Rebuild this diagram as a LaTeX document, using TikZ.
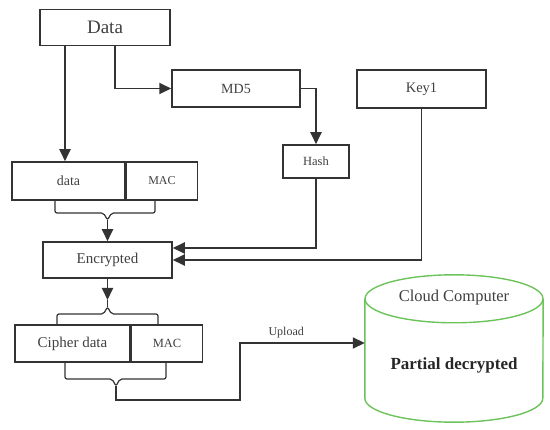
\documentclass[tikz,border=0pt]{standalone}
\usepackage{fontspec}
\setmainfont{Liberation Serif}
\usetikzlibrary{arrows.meta,positioning}
\usepackage{xcolor}
\definecolor{boxline}{HTML}{333333}
\definecolor{textgray}{HTML}{404040}
\definecolor{cloudgreen}{HTML}{6CC35A}

\begin{document}
\begin{tikzpicture}[
  x=1pt,y=-1pt,
  box/.style={draw=boxline,line width=1.5pt,fill=white,inner sep=0pt,text=textgray,align=center},
  arrow/.style={-{Triangle[length=12pt,width=11pt]},line width=1.8pt,draw=boxline},
  brace/.style={line width=1.2pt,draw=boxline,rounded corners=2pt},
  cloudline/.style={draw=cloudgreen,line width=1.4pt}
]
\useasboundingbox (0,0) rectangle (550,430);
% boxes
\node[box,minimum width=130pt,minimum height=36pt,font=\fontsize{19}{22}\selectfont] (data) at (105,27.5) {Data};
\node[box,minimum width=128pt,minimum height=37pt,font=\fontsize{14}{16}\selectfont] (md5) at (236,88.5) {MD5};
\node[box,minimum width=129pt,minimum height=38pt,font=\fontsize{14.5}{16}\selectfont] (key) at (421.5,89) {Key1};
\node[box,minimum width=66pt,minimum height=33pt,font=\fontsize{12.5}{14}\selectfont] (hash) at (316,161.5) {Hash};
\node[box,minimum width=113pt,minimum height=38pt,font=\fontsize{14}{16}\selectfont] (plain) at (68.5,181) {data};
\node[box,minimum width=71pt,minimum height=38pt,font=\fontsize{12}{14}\selectfont,right=0pt of plain] (mac) {MAC};
\node[box,minimum width=129pt,minimum height=36pt,font=\fontsize{15}{17}\selectfont] (enc) at (107.5,260) {Encrypted};
\node[box,minimum width=115pt,minimum height=37pt,font=\fontsize{15}{17}\selectfont] (cipher) at (72.5,343.5) {Cipher data};
\node[box,minimum width=71pt,minimum height=37pt,font=\fontsize{12.5}{14}\selectfont,right=0pt of cipher] (cmac) {MAC};
% cloud store
\node[minimum width=178pt,minimum height=147pt,inner sep=0pt] (cloud) at (454,348.5) {};
\draw[cloudline] ([yshift=-24pt]cloud.north) ellipse [x radius=89pt,y radius=24pt];
\draw[cloudline] ([yshift=-24pt]cloud.north west) -- ([yshift=24pt]cloud.south west)
  arc[start angle=180,end angle=360,x radius=89pt,y radius=24pt] -- ([yshift=-24pt]cloud.north east);
\node[text=textgray,font=\fontsize{16.5}{18}\selectfont] (cctitle) at ([yshift=-23pt]cloud.north) {Cloud Computer};
\node[text=black!85,font=\bfseries\fontsize{17}{19}\selectfont] (partial) at ([yshift=-17pt]cloud.center) {Partial decrypted};
% braces
\coordinate (tipA) at (107.5,220);
\coordinate (tipB) at (107.5,300);
\coordinate (tipC) at (116,386);
\coordinate (bend) at (240,343);
\draw[brace] (55,200) -- (55,213) -- (103.5,213) -- (tipA) -- (111.5,213) -- (155,213) -- (155,200);
\draw[brace] (57,325) -- (57,314) -- (103.5,314) -- (107.5,307) -- (111.5,314) -- (158,314) -- (158,325);
\draw[brace] (107.5,307) -- (tipB);
\draw[brace] (65,362) -- (65,379) -- (112,379) -- (tipC) -- (120,379) -- (166,379) -- (166,362);
% connectors
\draw[arrow] ([xshift=-40pt]data.south) -- ([xshift=-40pt]data.south |- plain.north);
\draw[arrow] ([xshift=10pt]data.south) |- (md5.west);
\draw[arrow] (md5.east) -| (hash.north);
\draw[arrow] (hash.south) |- ([yshift=12pt]enc.east);
\draw[arrow] (key.south) |- (enc.east);
\draw[arrow] (tipA) -- (tipA |- enc.north);
\draw[arrow] (enc.south) -- (tipB);
\draw[arrow,rounded corners=0pt] (tipC) -- ++(0,14) -| (bend) -- node[pos=0.37,above=1pt,text=textgray,font=\fontsize{12}{14}\selectfont]{Upload} (bend -| cloud.west);
\end{tikzpicture}
\end{document}
